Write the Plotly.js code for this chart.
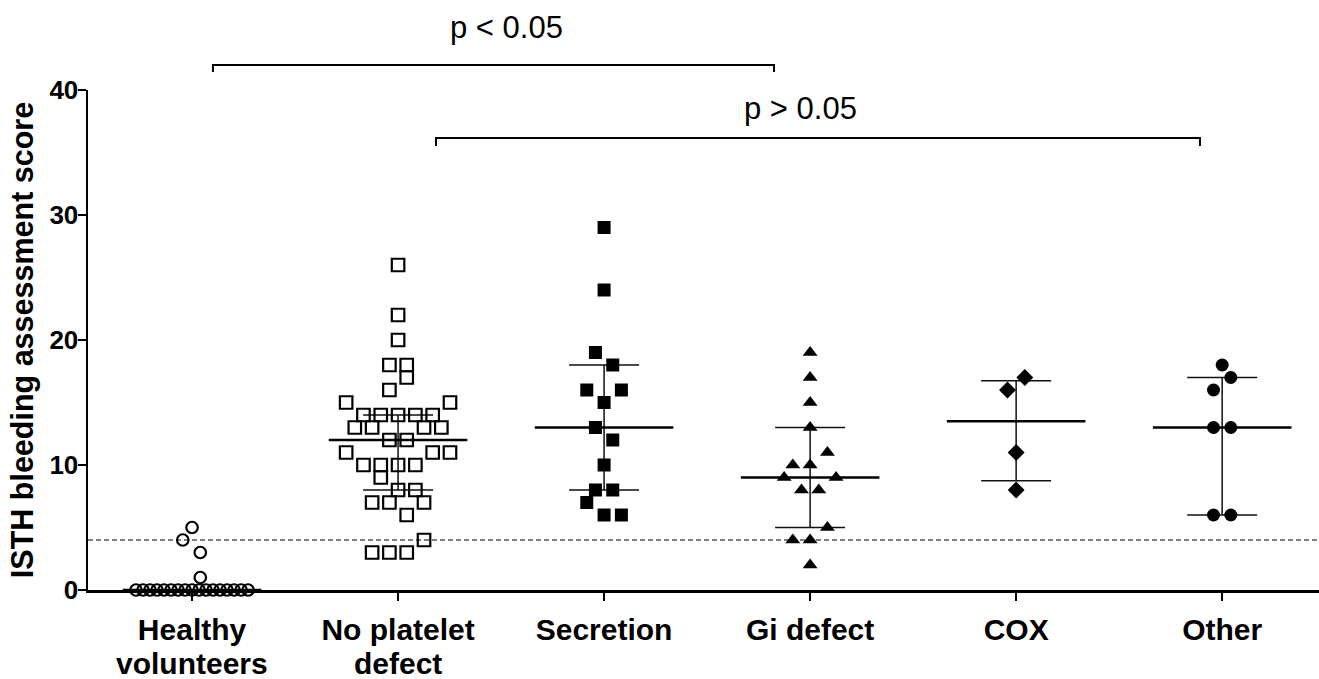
<!DOCTYPE html>
<html><head><meta charset="utf-8">
<script src="https://cdn.plot.ly/plotly-3.0.1.min.js"></script>
<style>html,body{margin:0;padding:0;background:#fff}#chart{width:1319px;height:679px}</style>
</head><body><div id="chart"></div>
<script>
// ---- data ----
// category labels: first line (tick label) and second line (drawn just below it)
const categoryLine1 = ['Healthy', 'No platelet', 'Secretion', 'Gi defect', 'COX', 'Other'];
const categoryLine2 = ['volunteers', 'defect', '', '', '', ''];
const yTicks = [0, 10, 20, 30, 40];

const healthyValues  = [0,0,0,0,0,0,0,0,0,0,0,0,0,0,0,0,0, 1, 3, 4, 5];
const healthyOffsets = [-0.272,-0.238,-0.204,-0.170,-0.136,-0.102,-0.068,-0.034,0,0.034,0.068,0.102,0.136,0.170,0.204,0.238,0.272, 0.04, 0.04, -0.045, 0];

const noDefectValues  = [26,22,20,18,18,17,16,15,15,14,14,14,14,14,13,13,13,13,12,12,11,11,11,10,10,10,10,9,8,8,7,7,7,6,4,3,3,3];
const noDefectOffsets = [0,0,0,-0.042,0.042,0.042,-0.042,-0.252,0.252,-0.168,-0.084,0,0.084,0.168,-0.210,-0.126,0.126,0.210,-0.042,0.042,-0.252,0.168,0.252,-0.168,-0.084,0,0.084,-0.084,0,0.084,-0.126,-0.042,0.126,0.042,0.126,-0.126,-0.042,0.042];

const secretionValues  = [29,24,19,18,16,16,15,13,12,10,8,8,7,6,6];
const secretionOffsets = [0,0,-0.042,0.042,-0.084,0.084,0,-0.042,0.042,0,-0.042,0.042,-0.084,0,0.084];

const giValues  = [19,17,15,13,11,10,10,9,9,8,8,5,4,4,2];
const giOffsets = [0,0,0,0,0.084,-0.084,0,-0.126,0.126,-0.042,0.042,0.084,-0.084,0,0];

const coxValues  = [17,16,11,8];
const coxOffsets = [0.042,-0.042,0,0];

const otherValues  = [18,17,16,13,13,6,6];
const otherOffsets = [0,0.042,-0.042,-0.042,0.042,-0.042,0.042];

// median with interquartile range per group
const medians = [0, 12, 13, 9, 13.5, 13];
const q1 = [0, 8, 8, 5, 8.75, 6];
const q3 = [0, 14, 18, 13, 16.75, 17];

// ---- build traces ----
const FONT = 'Liberation Sans, Arial, sans-serif';
const groupIdx = [0, 1, 2, 3, 4, 5];

function xs(idx, offs) { return offs.map(o => idx + o); }

const summary = {
  type: 'scatter', mode: 'markers', x: groupIdx, y: medians,
  marker: { symbol: 'line-ew', size: 99, color: '#000', line: { color: '#000', width: 2.6 } },
  error_y: {
    type: 'data', symmetric: false,
    array: q3.map((v, i) => v - medians[i]),
    arrayminus: medians.map((v, i) => v - q1[i]),
    width: 35, thickness: 1.5, color: '#111'
  },
  cliponaxis: false, hoverinfo: 'skip', showlegend: false
};

function pts(idx, vals, offs, marker) {
  return { type: 'scatter', mode: 'markers', x: xs(idx, offs), y: vals,
    marker: marker, cliponaxis: false, showlegend: false };
}

const traces = [
  summary,
  pts(0, healthyValues, healthyOffsets, { symbol: 'circle-open', size: 11.5, color: '#000', line: { width: 2.2 } }),
  pts(1, noDefectValues, noDefectOffsets, { symbol: 'square-open', size: 12.5, color: '#000', line: { width: 2.2 } }),
  pts(2, secretionValues, secretionOffsets, { symbol: 'square', size: 13, color: '#000' }),
  pts(3, giValues, giOffsets, { symbol: 'triangle-up', size: 13, color: '#000' }),
  pts(4, coxValues, coxOffsets, { symbol: 'diamond', size: 13, color: '#000' }),
  pts(5, otherValues, otherOffsets, { symbol: 'circle', size: 13, color: '#000' })
];

const catFont = { family: FONT, size: 30, color: '#000', weight: 'bold' };

const secondLines = categoryLine2
  .map((t, i) => ({ t: t, i: i }))
  .filter(o => o.t)
  .map(o => ({ xref: 'x', yref: 'paper', x: o.i, y: -0.146, text: o.t, showarrow: false,
    xanchor: 'center', yanchor: 'middle', font: catFont }));

const layout = {
  width: 1319, height: 679, autosize: false,
  margin: { l: 88, r: 0, t: 90, b: 89 },
  paper_bgcolor: '#fff', plot_bgcolor: '#fff',
  font: { family: FONT, color: '#000' },
  xaxis: {
    range: [-0.505, 5.47], tickvals: groupIdx, ticktext: categoryLine1,
    ticks: 'outside', ticklen: 8, tickwidth: 2, tickcolor: '#000',
    showline: true, linewidth: 2.5, linecolor: '#000',
    showgrid: false, zeroline: false, ticklabelstandoff: 3,
    tickfont: catFont
  },
  yaxis: {
    range: [0, 40], tickvals: yTicks,
    ticks: 'outside', ticklen: 8, tickwidth: 2, tickcolor: '#000',
    showline: true, linewidth: 2.5, linecolor: '#000',
    showgrid: false, zeroline: false, ticklabelstandoff: -6,
    tickfont: { family: FONT, size: 26, color: '#000', weight: 'bold' },
    title: { text: 'ISTH bleeding assessment score', standoff: 7,
      font: { family: FONT, size: 30.5, color: '#000', weight: 'bold' } }
  },
  shapes: [
    { type: 'line', xref: 'paper', yref: 'y', x0: 0, x1: 1, y0: 4, y1: 4,
      line: { color: '#000', width: 1.2, dash: '5px,3px' } },
    // p < 0.05 bracket
    { type: 'path', xref: 'paper', yref: 'paper',
      path: 'M0.1015,1.036 L0.1015,1.05 L0.5573,1.05 L0.5573,1.036',
      line: { color: '#000', width: 2 } },
    // p > 0.05 bracket
    { type: 'path', xref: 'paper', yref: 'paper',
      path: 'M0.2827,0.888 L0.2827,0.904 L0.9033,0.904 L0.9033,0.888',
      line: { color: '#000', width: 2 } }
  ],
  annotations: [
    { xref: 'paper', yref: 'paper', x: 0.3396, y: 1.126, text: 'p &lt; 0.05', showarrow: false,
      xanchor: 'center', yanchor: 'middle', font: { family: FONT, size: 31, color: '#000' } },
    { xref: 'paper', yref: 'paper', x: 0.579, y: 0.964, text: 'p &gt; 0.05', showarrow: false,
      xanchor: 'center', yanchor: 'middle', font: { family: FONT, size: 31, color: '#000' } }
  ].concat(secondLines)
};

Plotly.newPlot('chart', traces, layout, { displayModeBar: false, staticPlot: true });
</script>
</body></html>
